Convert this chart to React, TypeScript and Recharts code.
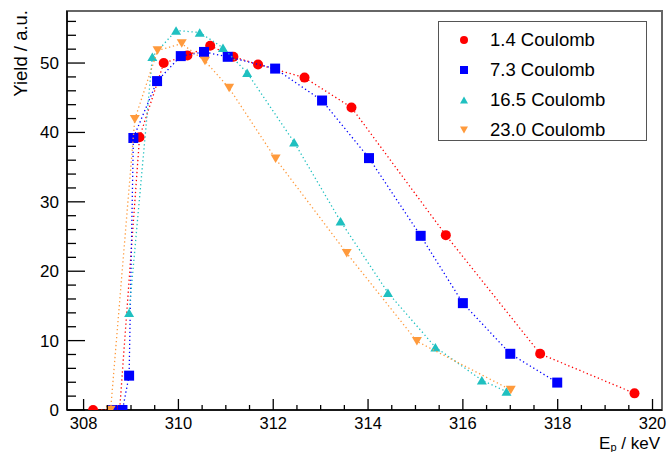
import React from 'react';
import { ScatterChart, Scatter, XAxis, YAxis, ReferenceArea, Legend } from 'recharts';

// 1.4 Coulomb
const e1 = [308.2, 308.76, 309.18, 309.69, 310.19, 310.67, 311.16, 311.68, 312.66, 313.65, 315.64, 317.63, 319.62];
const y1 = [0, 0, 39.3, 50.0, 51.1, 52.5, 50.9, 49.8, 47.9, 43.6, 25.2, 8.1, 2.4];

// 7.3 Coulomb
const e2 = [308.6, 308.82, 308.96, 309.05, 309.55, 310.05, 310.54, 311.04, 312.04, 313.03, 314.02, 315.11, 316.0, 317.0, 317.99];
const y2 = [0, 0, 4.95, 39.2, 47.4, 51.0, 51.6, 50.9, 49.2, 44.6, 36.3, 25.1, 15.4, 8.1, 3.95];

// 16.5 Coulomb
const e3 = [308.96, 309.45, 309.95, 310.45, 310.94, 311.45, 312.44, 313.42, 314.42, 315.42, 316.4, 316.92];
const y3 = [14.0, 50.9, 54.7, 54.4, 52.2, 48.6, 38.6, 27.2, 16.9, 9.05, 4.3, 2.65];

// 23.0 Coulomb
const e4 = [308.57, 309.08, 309.56, 310.07, 310.56, 311.07, 312.05, 313.55, 315.03, 317.01];
const y4 = [0, 41.9, 51.8, 52.8, 50.3, 46.4, 36.2, 22.6, 9.9, 2.9];

const xTicks = [308, 308.5, 309, 309.5, 310, 310.5, 311, 311.5, 312, 312.5, 313, 313.5, 314, 314.5, 315, 315.5, 316, 316.5, 317, 317.5, 318, 318.5, 319, 319.5, 320];
const yTicks = [0, 2, 4, 6, 8, 10, 12, 14, 16, 18, 20, 22, 24, 26, 28, 30, 32, 34, 36, 38, 40, 42, 44, 46, 48, 50, 52, 54, 56];

const FONT = '"Liberation Sans", Arial, sans-serif';

const toPoints = (xs: number[], ys: number[]) => xs.map((x, i) => ({ x, y: ys[i] }));

type Kind = 'circle' | 'square' | 'up' | 'down';

const marker = (kind: Kind, cx: number, cy: number, s: number, color: string) => {
  if (kind === 'circle') return <circle cx={cx} cy={cy} r={s / 2} fill={color} />;
  if (kind === 'square') return <rect x={cx - s / 2} y={cy - s / 2} width={s} height={s} fill={color} />;
  const h = s * 0.85;
  if (kind === 'up')
    return <polygon points={`${cx - s / 2},${cy + h / 2} ${cx + s / 2},${cy + h / 2} ${cx},${cy - h / 2}`} fill={color} />;
  return <polygon points={`${cx - s / 2},${cy - h / 2} ${cx + s / 2},${cy - h / 2} ${cx},${cy + h / 2}`} fill={color} />;
};

const series: { name: string; color: string; kind: Kind; data: { x: number; y: number }[] }[] = [
  { name: '1.4 Coulomb', color: '#ff0000', kind: 'circle', data: toPoints(e1, y1) },
  { name: '7.3 Coulomb', color: '#0000ff', kind: 'square', data: toPoints(e2, y2) },
  { name: '16.5 Coulomb', color: '#1fc0c0', kind: 'up', data: toPoints(e3, y3) },
  { name: '23.0 Coulomb', color: '#ff9a3c', kind: 'down', data: toPoints(e4, y4) },
];

const isMajor = (v: number, step: number) => Math.abs(v / step - Math.round(v / step)) < 1e-6;

const XTick = (props: any) => {
  const { x, y, payload } = props;
  const major = isMajor(payload.value, 2);
  return (
    <g>
      <line x1={x} x2={x} y1={y} y2={y - (major ? 11 : 5)} stroke="#000" strokeWidth={1.3} />
      {major && (
        <text x={x} y={y + 19} textAnchor="middle" fontSize={16.5} fontFamily={FONT} fill="#000">
          {payload.value}
        </text>
      )}
    </g>
  );
};

const YTick = (props: any) => {
  const { x, y, payload } = props;
  const major = isMajor(payload.value, 10);
  return (
    <g>
      <line x1={x} x2={x + (major ? 18 : 9)} y1={y} y2={y} stroke="#000" strokeWidth={1.3} />
      {major && (
        <text x={x - 8} y={y + 6} textAnchor="end" fontSize={17} fontFamily={FONT} fill="#000">
          {payload.value}
        </text>
      )}
    </g>
  );
};

const LegendBox = () => (
  <div
    style={{
      boxSizing: 'border-box',
      width: 209,
      height: 120,
      border: '1.5px solid #555',
      background: '#fff',
      fontFamily: FONT,
      fontSize: 18.5,
      color: '#000',
      position: 'relative',
    }}
  >
    {series.map((s, i) => (
      <div key={s.name} style={{ position: 'absolute', left: 0, top: 3 + i * 30, height: 30, width: '100%' }}>
        <svg width={52} height={30} style={{ position: 'absolute', left: 0, top: 0 }}>
          {marker(s.kind, 25, 15, 8, s.color)}
        </svg>
        <span style={{ position: 'absolute', left: 51, top: 3, lineHeight: '24px', whiteSpace: 'nowrap' }}>{s.name}</span>
      </div>
    ))}
  </div>
);

export default function App() {
  return (
    <div style={{ position: 'absolute', left: 0, top: 0, width: 670, height: 452, background: '#fff' }}>
      <ScatterChart width={670} height={452} margin={{ top: 11, right: 8, left: 0, bottom: 0 }}>
        <ReferenceArea x1={307.65} x2={320.2} y1={0} y2={57.5} fill="none" stroke="#666" strokeWidth={2} />
        <XAxis
          type="number"
          dataKey="x"
          domain={[307.65, 320.2]}
          ticks={xTicks}
          interval={0}
          allowDataOverflow
          tick={XTick}
          tickLine={false}
          tickSize={0}
          tickMargin={0}
          height={42}
          axisLine={{ stroke: '#000', strokeWidth: 1.5 }}
          label={{
            content: () => (
              <text x={660} y={448.5} textAnchor="end" fontSize={17} fontFamily={FONT} fill="#000">
                E<tspan fontSize={11} dy={2.5}>p</tspan>
                <tspan dy={-2.5}> / keV</tspan>
              </text>
            ),
          }}
        />
        <YAxis
          type="number"
          dataKey="y"
          domain={[0, 57.5]}
          ticks={yTicks}
          interval={0}
          allowDataOverflow
          tick={YTick}
          tickLine={false}
          tickSize={0}
          tickMargin={0}
          width={67}
          axisLine={{ stroke: '#000', strokeWidth: 1.5 }}
          label={{
            content: () => (
              <text transform="translate(27,10) rotate(-90)" textAnchor="end" fontSize={18.5} fontFamily={FONT} fill="#000">
                Yield / a.u.
              </text>
            ),
          }}
        />
        {series.map((s) => (
          <Scatter
            key={s.name}
            name={s.name}
            data={s.data}
            fill={s.color}
            isAnimationActive={false}
            line={{ stroke: s.color, strokeWidth: 1.3, strokeDasharray: '1.3 2.7' }}
            lineType="joint"
            shape={(p: any) => marker(s.kind, p.cx, p.cy, 10, s.color)}
          />
        ))}
        <Legend
          layout="vertical"
          align="center"
          verticalAlign="middle"
          content={LegendBox}
          wrapperStyle={{ left: 438, top: 21, width: 209, height: 120 }}
        />
      </ScatterChart>
    </div>
  );
}
